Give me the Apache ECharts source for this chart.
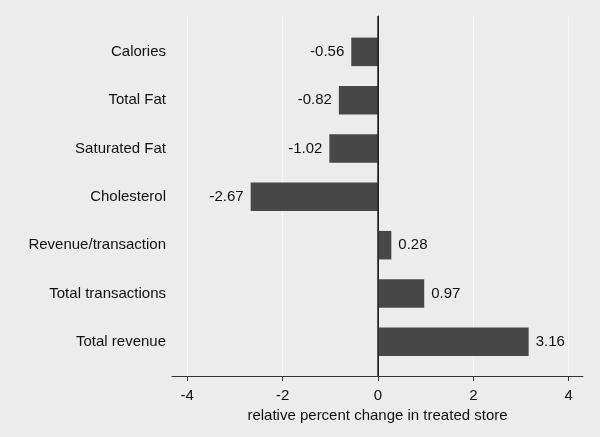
<!DOCTYPE html>
<html>
<head>
<meta charset="utf-8">
<script src="https://cdn.jsdelivr.net/npm/echarts@6/dist/echarts.min.js"></script>
<style>html,body{margin:0;padding:0;background:#ececec;}#c{width:600px;height:437px;}</style>
</head>
<body>
<div id="c"></div>
<script>
const categories = ["Calories", "Total Fat", "Saturated Fat", "Cholesterol", "Revenue/transaction", "Total transactions", "Total revenue"];
const values = [-0.56, -0.82, -1.02, -2.67, 0.28, 0.97, 3.16];
const xTicks = [-4, -2, 0, 2, 4];
const xTitle = "relative percent change in treated store";

const FONT = '"Liberation Sans", Arial, sans-serif';
const XMIN = -4.32, XMAX = 4.3;
const chart = echarts.init(document.getElementById('c'), null, {renderer: 'canvas'});
chart.setOption({
  backgroundColor: '#ececec',
  animation: false,
  grid: [
    {left: 172, right: 17, top: 16, bottom: 61, containLabel: false},
    {left: 172, right: 17, top: 27.7, bottom: 71, containLabel: false}
  ],
  xAxis: [
    {
      gridIndex: 0, type: 'value', min: XMIN, max: XMAX,
      axisLine: {show: true, lineStyle: {color: '#333', width: 1}},
      axisTick: {show: true, length: 5, lineStyle: {color: '#333'}, customValues: xTicks},
      axisLabel: {show: true, margin: 12, fontSize: 15, color: '#111', fontFamily: FONT, customValues: xTicks},
      splitLine: {show: true, lineStyle: {color: '#f7f7f7', width: 1}},
      name: xTitle, nameLocation: 'middle', nameGap: 24,
      nameTextStyle: {fontSize: 15, color: '#111', fontFamily: FONT}
    },
    {
      gridIndex: 1, type: 'value', min: XMIN, max: XMAX, show: false
    }
  ],
  yAxis: [
    {
      gridIndex: 0, type: 'value', min: 0, max: 1,
      axisLine: {show: true, lineStyle: {color: '#333', width: 1}},
      axisTick: {show: false}, axisLabel: {show: false}, splitLine: {show: false}
    },
    {
      gridIndex: 1, type: 'category', data: categories, inverse: true,
      axisLine: {show: false}, axisTick: {show: false}, splitLine: {show: false},
      axisLabel: {margin: 6, fontSize: 15, color: '#111', fontFamily: FONT}
    }
  ],
  series: [
    {
      type: 'line', xAxisIndex: 0, yAxisIndex: 0, data: [[0, 0.5]], symbol: 'none', silent: true,
      lineStyle: {opacity: 0},
      markLine: {silent: true, symbol: 'none', label: {show: false},
        lineStyle: {color: '#222', width: 1.5, type: 'solid'}, data: [{xAxis: 0}]}
    },
    {
      type: 'bar', xAxisIndex: 1, yAxisIndex: 1,
      data: values.map(v => ({value: v, label: {position: v < 0 ? 'left' : 'right'}})),
      barCategoryGap: '41%',
      itemStyle: {color: '#474747'},
      label: {
        show: true, fontSize: 15, color: '#111', fontFamily: FONT, distance: 7,
        formatter: p => p.value.toFixed(2)
      }
    }
  ]
});
</script>
</body>
</html>
